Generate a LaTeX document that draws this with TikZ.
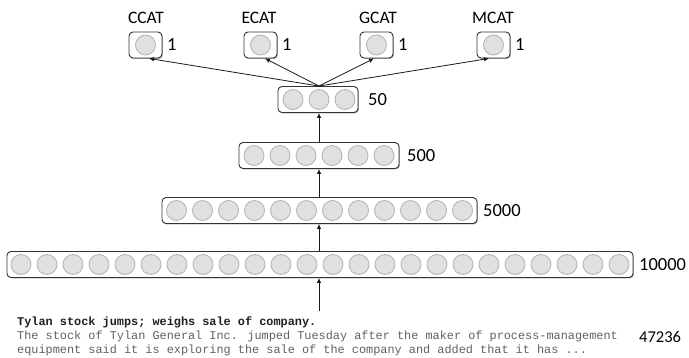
\documentclass[tikz,border=0pt]{standalone}
\usepackage{fontspec}
\setmainfont{Carlito}
\newfontfamily\monof{Liberation Mono}
\usetikzlibrary{arrows.meta,shadows}
\begin{document}
\begin{tikzpicture}[x=1pt,y=-1pt,
  layer/.style={draw=black!80, line width=0.9pt, rounded corners=4pt, minimum height=26pt, inner sep=0pt,
    drop shadow={shadow xshift=0.8pt, shadow yshift=-0.9pt, fill=black!45, opacity=0.8}, fill=white},
  unit/.style={circle, draw=black!30, fill=black!12, line width=0.8pt, minimum size=20pt, inner sep=0pt},
  lbl/.style={anchor=west, inner sep=0pt, font=\fontsize{18.5}{20}\selectfont},
  cat/.style={anchor=base, inner sep=0pt, font=\fontsize{17.5}{20}\selectfont},
  doc/.style={anchor=base west, inner sep=0pt, font=\monof\fontsize{11.87}{14}\selectfont},
  arr/.style={-{Latex[length=5pt,width=4.5pt]}, line width=0.8pt, black!90}]
\useasboundingbox (0,0) rectangle (689,357);

% hidden layers
\node[layer, minimum width=626pt] (L10000) at (320,264.5) {};
\foreach \i in {1,...,24} \node[unit] (a\i) at ({320+26*(\i-12.5)},264.5) {};
\node[lbl] (t10000) at (639,264.5) {10000};

\node[layer, minimum width=315pt] (L5000) at (319.5,210.5) {};
\foreach \i in {1,...,12} \node[unit] (b\i) at ({319.5+26*(\i-6.5)},210.5) {};
\node[lbl] (t5000) at (483,210.5) {5000};

\node[layer, minimum width=160pt] (L500) at (319,155.5) {};
\foreach \i in {1,...,6} \node[unit] (c\i) at ({319+26*(\i-3.5)},155.5) {};
\node[lbl] (t500) at (407,155.5) {500};

\node[layer, minimum width=80pt] (L50) at (318,99.5) {};
\foreach \i in {1,...,3} \node[unit] (d\i) at ({319+26*(\i-2)},99.5) {};
\node[lbl] (t50) at (368,99.5) {50};

% output units
\foreach \nm/\x/\cx in {C/145.5/146, E/260.5/259, G/376.5/378, M/493.5/493}{
  \node[layer, minimum width=33pt] (o\nm) at (\x,45) {};
  \node[unit] (u\nm) at (\x,45) {};
  \node[lbl] (n\nm) at (\x+21.5,45) {1};
  \node[cat] (k\nm) at (\cx,23) {\nm CAT};
}

% connectors
\coordinate (inp) at (319,311);
\draw[arr] (inp) -- (L10000.south -| inp);
\draw[arr] (L10000.north -| inp) -- (L5000.south -| inp);
\draw[arr] (L5000.north -| inp) -- (L500.south -| inp);
\draw[arr] (L500.north -| inp) -- (L50.south -| inp);
\coordinate (hub) at (L50.north -| inp);
\draw[arr] (hub) -- ([xshift=3.5pt]oC.south);
\draw[arr] (hub) -- ([xshift=4.5pt]oE.south);
\draw[arr] (hub) -- ([xshift=-2.5pt]oG.south);
\draw[arr] (hub) -- ([xshift=-4.5pt]oM.south);

% document text
\node[doc, text=black!88] (doc1) at (17,325) {\textbf{Tylan stock jumps; weighs sale of company.}};
\node[doc, text=black!62] (doc2) at (17,339) {The stock of Tylan General Inc. jumped Tuesday after the maker of process-management};
\node[doc, text=black!62] (doc3) at (17,353) {equipment said it is exploring the sale of the company and added that it has ...};
\node[anchor=west, inner sep=0pt, font=\fontsize{16.5}{18}\selectfont] (vocab) at (639,337) {47236};
\end{tikzpicture}
\end{document}
